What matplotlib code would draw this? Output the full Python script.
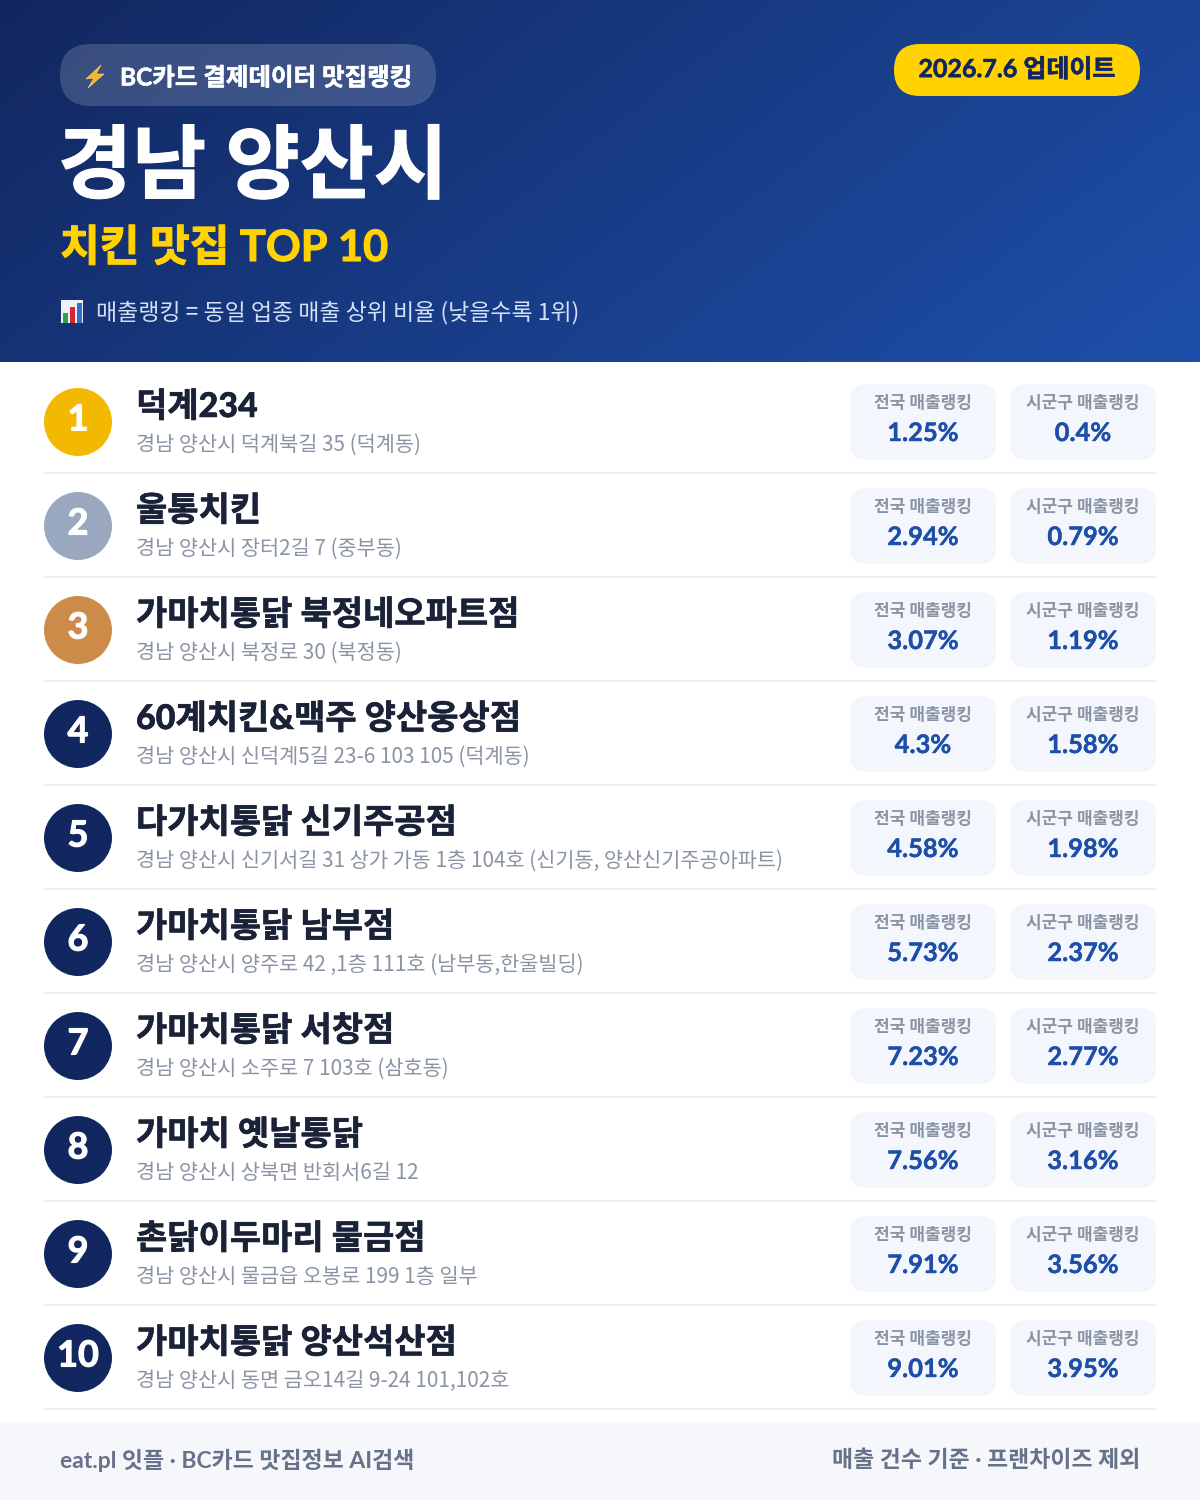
import numpy as np
import matplotlib
matplotlib.use("Agg")
import matplotlib.pyplot as plt
import matplotlib.patheffects as pe
from matplotlib.patches import Circle, FancyBboxPatch, Polygon, Rectangle

plt.rcParams['font.family'] = ['Lato', 'Noto Sans CJK KR', 'DejaVu Sans']
KR = ['Noto Sans CJK KR', 'DejaVu Sans']

names = ["덕계234", "울통치킨", "가마치통닭 북정네오파트점", "60계치킨&맥주 양산웅상점",
         "다가치통닭 신기주공점", "가마치통닭 남부점", "가마치통닭 서창점",
         "가마치 옛날통닭", "촌닭이두마리 물금점", "가마치통닭 양산석산점"]
addresses = ["경남 양산시 덕계북길 35 (덕계동)",
             "경남 양산시 장터2길 7 (중부동)",
             "경남 양산시 북정로 30 (북정동)",
             "경남 양산시 신덕계5길 23-6 103 105 (덕계동)",
             "경남 양산시 신기서길 31 상가 가동 1층 104호 (신기동, 양산신기주공아파트)",
             "경남 양산시 양주로 42 ,1층 111호 (남부동,한울빌딩)",
             "경남 양산시 소주로 7 103호 (삼호동)",
             "경남 양산시 상북면 반회서6길 12",
             "경남 양산시 물금읍 오봉로 199 1층 일부",
             "경남 양산시 동면 금오14길 9-24 101,102호"]
national = [1.25, 2.94, 3.07, 4.3, 4.58, 5.73, 7.23, 7.56, 7.91, 9.01]
local = [0.4, 0.79, 1.19, 1.58, 1.98, 2.37, 2.77, 3.16, 3.56, 3.95]

NAVY = "#12275f"
BLUE = "#1e4fa8"
YELLOW = "#ffd200"
medals = {0: "#f2b900", 1: "#9aa8bf", 2: "#cd8b4a"}


def px(size):
    return size * 0.72


def heavy(color, width=0.5):
    # the fonts here stop at bold, the reference is a bit heavier
    return [pe.withStroke(linewidth=width, foreground=color)]


def pill(ax, x0, y0, x1, y1, r, **kw):
    ax.add_patch(FancyBboxPatch((x0 + r, y0 + r), x1 - x0 - 2 * r, y1 - y0 - 2 * r,
                                boxstyle="round,pad=%f,rounding_size=%f" % (r, r),
                                linewidth=0, **kw))


fig = plt.figure(figsize=(12, 15), dpi=100)
ax = fig.add_axes([0, 0, 1, 1])
ax.set_xlim(0, 1200)
ax.set_ylim(1500, 0)
ax.axis("off")

# header gradient
gx, gy = np.meshgrid(np.linspace(0, 1, 300), np.linspace(0, 1, 100))
t = (gx * 0.72 + gy * 0.28)[..., None]
c0 = np.array([0x12, 0x27, 0x5f]) / 255
c1 = np.array([0x1e, 0x50, 0xab]) / 255
ax.imshow(c0 + (c1 - c0) * t, extent=(0, 1200, 362, 0), aspect="auto", zorder=0)
ax.set_xlim(0, 1200)
ax.set_ylim(1500, 0)

pill(ax, 60, 44, 436, 106, 31, facecolor="white", alpha=0.17, zorder=1)
ax.add_patch(Polygon([(101, 65), (86, 79), (94, 78), (88, 88), (104, 74), (96, 74)],
                     facecolor="#f7b52c", edgecolor="#ffe27a", linewidth=0.4, zorder=2))
ax.text(120, 78, "BC카드 결제데이터 맛집랭킹", fontsize=px(24.5), fontweight="bold",
        color="white", va="center", zorder=2, path_effects=heavy("white", 0.4))

pill(ax, 894, 44, 1140, 96, 26, facecolor=YELLOW, zorder=1)
ax.text(1017, 69.5, "2026.7.6 업데이트", fontsize=px(25), fontweight="bold", color=NAVY,
        ha="center", va="center", zorder=2, path_effects=heavy(NAVY, 0.4))

ax.text(58, 192, "경남 양산시", fontsize=px(80.5), fontweight="bold", color="white",
        va="baseline", zorder=2, path_effects=heavy("white", 0.8))
ax.text(60, 261, "치킨 맛집 TOP 10", fontsize=px(43.2), fontweight="bold", color=YELLOW,
        va="baseline", zorder=2, path_effects=heavy(YELLOW, 0.8))

# chart emoji
ax.add_patch(Rectangle((61, 300), 22, 23, facecolor="#eef2f7", linewidth=0, zorder=2))
for bx, bw, btop, bcol in [(63, 5, 313, "#2e9e4f"), (70, 5, 307, "#d8282f"), (77, 5, 303, "#2f6fd0")]:
    ax.add_patch(Rectangle((bx, btop), bw, 323 - btop, facecolor=bcol, linewidth=0, zorder=3))
ax.text(96, 313, "매출랭킹 = 동일 업종 매출 상위 비율 (낮을수록 1위)", fontsize=px(23),
        color="#d3e0f5", va="center", zorder=2, family=KR)

# rows
for i in range(len(names)):
    y = 104 * i
    ax.add_patch(Circle((78, 422 + y), 34, facecolor=medals.get(i, NAVY), linewidth=0, zorder=2))
    ax.text(78, 420 + y, str(i + 1), fontsize=px(36), fontweight="bold", color="white",
            ha="center", va="center", zorder=3, path_effects=heavy("white", 0.8))
    ax.text(136, 417 + y, names[i], fontsize=px(34), fontweight=900, color="#1a2238",
            va="baseline", zorder=2, path_effects=heavy("#1a2238", 0.4))
    ax.text(136, 445 + y, addresses[i], fontsize=px(20.8), color="#8b94a5", va="center",
            zorder=2, family=KR)
    for x0, x1, label, val in [(850, 996, "전국 매출랭킹", national[i]),
                               (1010, 1156, "시군구 매출랭킹", local[i])]:
        pill(ax, x0, 384 + y, x1, 460 + y, 16, facecolor="#f3f6fc", zorder=1)
        xm = (x0 + x1) / 2
        ax.text(xm, 403 + y, label, fontsize=px(17), fontweight="bold", color="#8b94a5",
                ha="center", va="center", zorder=2)
        ax.text(xm, 433 + y, "%g%%" % val, fontsize=px(25.5), fontweight="bold", color=BLUE,
                ha="center", va="center", zorder=2, path_effects=heavy(BLUE, 0.3))
    ax.plot([44, 1156], [473 + y, 473 + y], color="#eceef1", linewidth=1.5, zorder=1,
            solid_capstyle="butt")

# footer
ax.add_patch(Rectangle((0, 1422), 1200, 78, facecolor="#f5f7fb", linewidth=0, zorder=1))
ax.text(60, 1460, "eat.pl 잇플 · BC카드 맛집정보 AI검색", fontsize=px(22.9), fontweight="bold",
        color="#66718a", va="center", zorder=2)
ax.text(1140, 1460, "매출 건수 기준 · 프랜차이즈 제외", fontsize=px(22.9), fontweight="bold",
        color="#66718a", ha="right", va="center", zorder=2)

fig.savefig("out.png", dpi=100)
